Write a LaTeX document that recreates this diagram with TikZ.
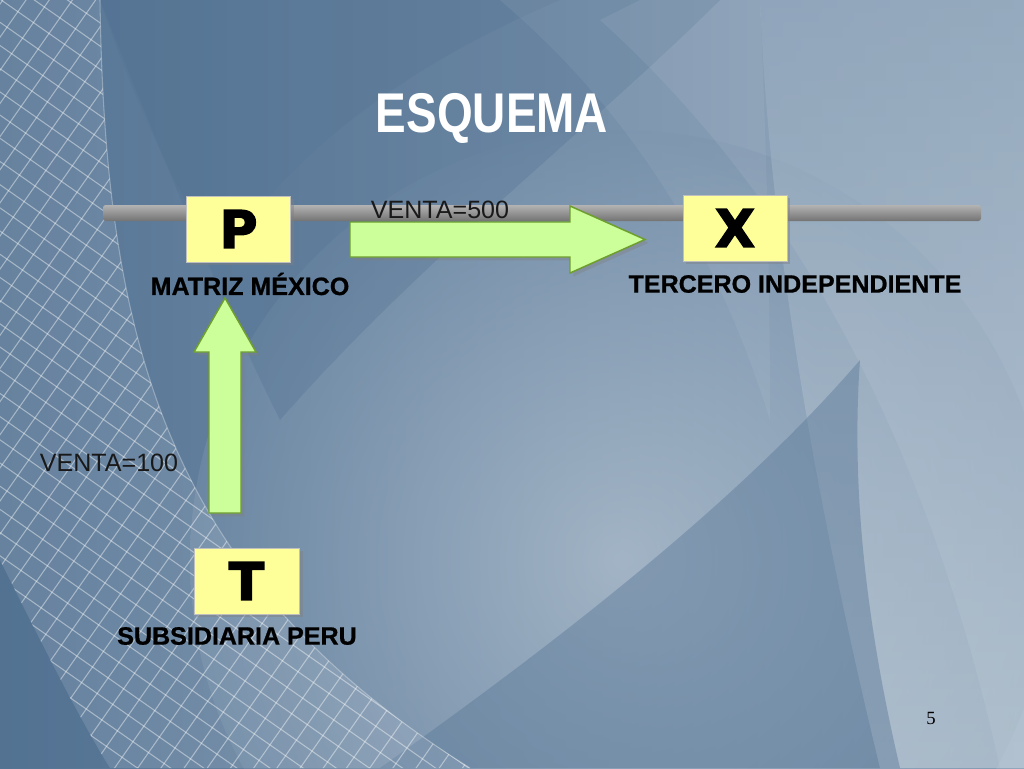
\documentclass[tikz,border=0pt]{standalone}
\usepackage{fontspec}
\setmainfont{Liberation Sans}
\newfontfamily\heavyfont[BoldFeatures={FakeBold=2.5}]{DejaVu Sans}
\newfontfamily\capfont[BoldFeatures={FakeBold=0.8}]{Liberation Sans}
\newfontfamily\numfont{Liberation Serif}
\usetikzlibrary{shadows,calc}
\definecolor{bgbase}{HTML}{7690AA}
\definecolor{bgdark}{HTML}{4F6F90}
\definecolor{bgmid}{HTML}{8EA4BA}
\definecolor{bglight}{HTML}{C3CFD9}
\definecolor{boxyellow}{HTML}{FFFF99}
\definecolor{arrowfill}{HTML}{CCFF99}
\definecolor{arrowline}{HTML}{6E9E2E}
\tikzset{
  letterbox/.style={draw=black!25, fill=boxyellow, minimum width=78pt, minimum height=49.5pt,
    inner sep=0pt, font=\heavyfont\bfseries\fontsize{39}{39}\selectfont,
    drop shadow={opacity=0.45, shadow xshift=2.5pt, shadow yshift=-2.5pt}},
  caption/.style={font=\capfont\bfseries\fontsize{18.8}{20}\selectfont, text=black, inner sep=0pt},
  amount/.style={font=\fontsize{18.8}{20}\selectfont, text=black!90, inner sep=0pt},
  blockarrow/.style={fill=arrowfill, draw=arrowline, line width=1.1pt, line join=miter,
    drop shadow={opacity=0.4, shadow xshift=2.5pt, shadow yshift=-2.5pt}},
  meshline/.style={white, opacity=0.42, line width=0.8pt}
}
\begin{document}
\begin{tikzpicture}[x=0.75pt,y=-0.75pt]
\useasboundingbox (0,0) rectangle (1024,768);
% ---------- background ----------
\shade[left color=bgdark!85!bgbase, right color=bgmid] (0,0) rectangle (1024,768);
\shade[inner color=bglight!85!white, outer color=bgbase, opacity=0.5] (620,560) circle (430);
% dark band across the top
\fill[bgdark, opacity=0.3] (100,0) -- (720,0) .. controls (600,120) and (420,260) .. (280,420)
  .. controls (220,300) and (160,150) .. (100,0) -- cycle;
\fill[bgdark, opacity=0.2] (100,0) -- (560,0) .. controls (420,60) and (300,140) .. (220,260)
  .. controls (170,180) and (130,90) .. (100,0) -- cycle;
% light area on the right
\shade[top color=bgmid, bottom color=bglight, opacity=0.6] (760,0) .. controls (770,250) and (820,520) .. (880,768) -- (1024,768) -- (1024,0) -- cycle;
\fill[white, opacity=0.07] (600,20) .. controls (800,200) and (930,450) .. (1000,768) -- (1024,768) -- (1024,0) -- (640,0) -- cycle;
% dark swoosh at the bottom
\fill[bgdark!70!bgbase, opacity=0.45] (380,768) .. controls (560,640) and (740,500) .. (860,360)
  .. controls (850,500) and (870,640) .. (900,768) -- cycle;
\fill[bgdark, opacity=0.3] (0,560) .. controls (40,640) and (80,720) .. (110,768) -- (0,768) -- cycle;
% faint lighter sheet top right
\fill[white, opacity=0.06] (500,0) .. controls (640,120) and (720,260) .. (770,420) .. controls (770,250) and (765,120) .. (760,0) -- cycle;
% mesh band on the left
\begin{scope}
  \clip (0,0) -- (100,0) .. controls (105,350) and (170,580) .. (470,768) -- (110,768)
     .. controls (80,720) and (40,640) .. (0,560) -- cycle;
  \fill[white, opacity=0.1] (0,0) rectangle (470,768);
  \begin{scope}[rotate around={-35:(100,400)}]
    \foreach \k in {-45,...,45} {
      \draw[meshline] (\k*19,-400) -- (\k*19,1400);
      \draw[meshline] (-600,\k*19+300) -- (1000,\k*19+300);
    }
  \end{scope}
\end{scope}
\draw[white, opacity=0.3, line width=0.8pt] (100,0) .. controls (105,350) and (170,580) .. (470,768);
% ---------- title ----------
\node[font=\bfseries\fontsize{42}{42}\selectfont, text=white, xscale=0.82, inner sep=0pt] (title) at (492,118) {ESQUEMA};
% ---------- bar ----------
\shade[top color=black!30, middle color=black!5, bottom color=black!55, rounded corners=2pt]
  (103,205) rectangle (981,221);
% ---------- boxes ----------
\node[letterbox] (P) at (238.5,229) {P};
\node[letterbox] (X) at (735,228) {X};
\node[letterbox, minimum width=79pt] (T) at (246.5,581) {T};
% ---------- labels ----------
\node[caption] (pl) at (250,284) {MATRIZ MÉXICO};
\node[caption] (xl) at (795,284) {TERCERO INDEPENDIENTE};
\node[caption] (tl) at (237,636) {SUBSIDIARIA PERU};
% ---------- block arrows ----------
\coordinate (a1s) at (350,239.5);
\coordinate (a1e) at (645,239.5);
\draw[blockarrow] ($(a1s)+(0,-17.5)$) -- ($(a1e)+(-75,-17.5)$) -- ($(a1e)+(-75,-33.5)$) -- (a1e)
  -- ($(a1e)+(-75,33.5)$) -- ($(a1e)+(-75,17.5)$) -- ($(a1s)+(0,17.5)$) -- cycle;
\coordinate (a2s) at (225,513);
\coordinate (a2e) at (225,298);
\draw[blockarrow] ($(a2s)+(-16,0)$) -- ($(a2e)+(-16,54)$) -- ($(a2e)+(-31,54)$) -- (a2e)
  -- ($(a2e)+(31,54)$) -- ($(a2e)+(16,54)$) -- ($(a2s)+(16,0)$) -- cycle;
\node[amount] (v500) at (440,210) {VENTA=500};
\node[amount] (v100) at (109,463) {VENTA=100};
% ---------- page number ----------
\node[font=\numfont\fontsize{14}{14}\selectfont, inner sep=0pt] (pg) at (931,718) {5};
\end{tikzpicture}
\end{document}
